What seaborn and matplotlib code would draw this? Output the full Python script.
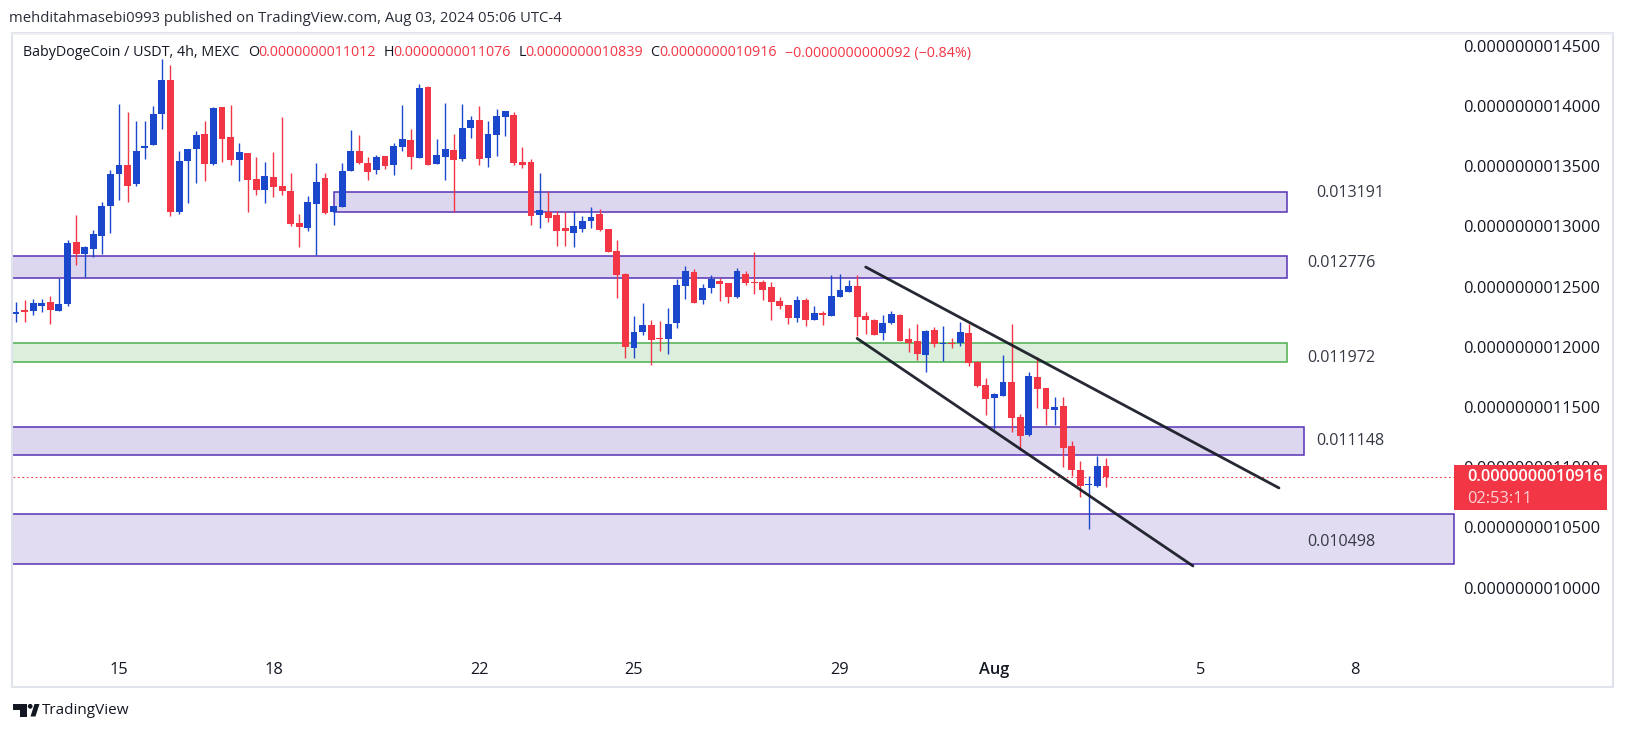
import numpy as np
import pandas as pd
import matplotlib
matplotlib.use("Agg")
import matplotlib.pyplot as plt
import matplotlib.transforms as mtransforms
from matplotlib.patches import Rectangle, Polygon, Circle
import seaborn as sns

W, H = 1627, 731

# 4h candles from 2024-07-13 00:00, prices in units of 1e-13 USDT
start_time = "2024-07-13 00:00"
opens = [12276, 12306, 12301, 12342, 12373, 12301, 12359, 12871, 12774, 12816,
         12924, 13173, 13439, 13511, 13356, 13655, 13680, 13937, 14217, 13123,
         13547, 13646, 13768, 13522, 13993, 13743, 13555, 13610, 13394, 13306,
         13411, 13336, 13295, 13029, 12990, 13190, 13403, 13123, 13165, 13464,
         13627, 13527, 13472, 13586, 13514, 13663, 13718, 13572, 14159, 13522,
         13580, 13635, 13563, 13821, 13885, 13572, 13763, 13912, 13926, 13536,
         13536, 13098, 13120, 13095, 12987, 12949, 12982, 13048, 13104, 12979,
         12796, 12605, 11993, 12126, 12182, 12074, 12068, 12201, 12509, 12622,
         12392, 12492, 12547, 12531, 12417, 12605, 12539, 12539, 12497, 12381,
         12348, 12243, 12390, 12226, 12282, 12259, 12417, 12459, 12506, 12256,
         12223, 12115, 12198, 12264, 12065, 12048, 11932, 12139, 12026, 12031,
         12031, 12115, 11874, 11683, 11577, 11594, 11708, 11417, 11267, 11749,
         11657, 11478, 11508, 11176, 10977, 10852, 10844, 11012]
highs = [12370, 12389, 12398, 12398, 12423, 12569, 12888, 13095, 12838, 12971,
         13203, 13469, 14018, 13951, 13876, 13876, 14001, 14390, 14341, 13627,
         13644, 13793, 13876, 13993, 13993, 14009, 13694, 13610, 13577, 13536,
         13619, 13909, 13444, 13104, 13253, 13527, 13444, 13170, 13527, 13802,
         13760, 13577, 13594, 13586, 13694, 14009, 13810, 14184, 14167, 13727,
         14026, 13768, 14018, 13918, 14001, 13876, 13976, 13959, 13951, 13660,
         13561, 13444, 13295, 13129, 13120, 13129, 13087, 13162, 13145, 12979,
         12888, 12613, 12257, 12365, 12223, 12215, 12323, 12564, 12672, 12647,
         12522, 12597, 12572, 12531, 12655, 12630, 12788, 12556, 12539, 12414,
         12348, 12423, 12406, 12340, 12298, 12597, 12605, 12556, 12597, 12289,
         12231, 12264, 12297, 12272, 12156, 12189, 12139, 12164, 12173, 12073,
         12206, 12189, 11882, 11741, 11616, 11932, 12189, 11442, 11790, 11915,
         11657, 11583, 11583, 11217, 11051, 10927, 11093, 11076]
lows = [12209, 12209, 12265, 12292, 12193, 12301, 12342, 12683, 12583, 12749,
        12774, 12949, 13223, 13206, 13339, 13563, 13680, 13813, 13090, 13106,
        13198, 13364, 13381, 13514, 13539, 13514, 13381, 13123, 13264, 13198,
        13248, 13264, 13007, 12832, 12965, 12763, 13106, 13015, 13165, 13464,
        13522, 13389, 13439, 13480, 13430, 13630, 13480, 13572, 13514, 13522,
        13389, 13123, 13547, 13738, 13514, 13497, 13588, 13754, 13514, 13489,
        13015, 12990, 13040, 12841, 12841, 12832, 12957, 12990, 12965, 12791,
        12409, 11910, 11910, 12101, 11850, 11969, 11944, 12160, 12398, 12367,
        12359, 12450, 12381, 12367, 12409, 12517, 12442, 12392, 12226, 12318,
        12193, 12210, 12176, 12223, 12185, 12259, 12417, 12456, 12093, 12106,
        12098, 12056, 12189, 12051, 11957, 11890, 11790, 12001, 11882, 11990,
        12007, 11843, 11666, 11433, 11317, 11594, 11292, 11143, 11259, 11492,
        11350, 11350, 11001, 10927, 10752, 10486, 10835, 10839]
closes = [12290, 12292, 12364, 12364, 12309, 12356, 12863, 12774, 12830, 12938,
          13170, 13436, 13511, 13339, 13627, 13669, 13934, 14217, 13123, 13544,
          13644, 13760, 13522, 13984, 13730, 13555, 13619, 13389, 13306, 13419,
          13331, 13298, 13023, 12998, 13203, 13370, 13115, 13170, 13461, 13627,
          13530, 13455, 13577, 13505, 13669, 13727, 13580, 14150, 13514, 13594,
          13644, 13555, 13818, 13885, 13563, 13768, 13918, 13959, 13530, 13514,
          13090, 13137, 13073, 12965, 12965, 13004, 13046, 13079, 12974, 12791,
          12600, 12002, 12124, 12182, 12057, 12065, 12190, 12514, 12630, 12367,
          12489, 12564, 12525, 12417, 12630, 12534, 12534, 12475, 12376, 12342,
          12243, 12390, 12226, 12282, 12262, 12423, 12473, 12506, 12251, 12223,
          12098, 12198, 12272, 12051, 12031, 11940, 12131, 12026, 12031, 12026,
          12123, 11868, 11674, 11566, 11608, 11708, 11408, 11259, 11757, 11652,
          11483, 11500, 11159, 10977, 10844, 10857, 11008, 10916]

# drawn zones (price bounds, start/end in candle units)
zone_top = [13289, 12757, 12030, 11337, 10609]
zone_bottom = [13118, 12569, 11872, 11102, 10194]
zone_start = [37.05, -5, -5, -5, -5]
zone_end = [148.08, 148.08, 148.08, 150.06, 167.5]
zone_kind = ["purple", "purple", "green", "purple", "light"]
zone_labels = ["0.013191", "0.012776", "0.011972", "0.011148", "0.010498"]

# falling channel lines
upper_x = [99.0, 147.15]
upper_y = [12663, 10828]
lower_x = [98.0, 137.13]
lower_y = [12070, 10180]

price_ticks = [10000, 10500, 11000, 11500, 12000, 12500, 13000, 13500, 14000, 14500]
tick_dates = ["2024-07-15", "2024-07-18", "2024-07-22", "2024-07-25",
              "2024-07-29", "2024-08-01", "2024-08-05", "2024-08-08"]
tick_labels = ["15", "18", "22", "25", "29", "Aug", "5", "8"]
countdown = "02:53:11"

BLUE = "#1a47cc"
RED = "#f23645"
DARK = "#131722"
ZONE_STYLE = {
    "purple": dict(facecolor="#dcd7ee", edgecolor="#5632b5"),
    "light": dict(facecolor="#e1dcf1", edgecolor="#5632b5"),
    "green": dict(facecolor="#dbefdc", edgecolor="#4caf50"),
}

sns.set_theme(style="white")
plt.rcParams["font.family"] = ["Open Sans", "DejaVu Sans"]

fig = plt.figure(figsize=(W / 100, H / 100), dpi=100)
fig.patch.set_facecolor("white")
ax = fig.add_axes([13 / W, 1 - 650 / H, 1600 / W, 617 / H])
ax.set_facecolor("white")
for s in ax.spines.values():
    s.set_visible(False)

# zones
for top, bot, x0, x1, kind in zip(zone_top, zone_bottom, zone_start, zone_end, zone_kind):
    ax.add_patch(Rectangle((x0, bot), x1 - x0, top - bot, linewidth=1.1,
                           zorder=1, **ZONE_STYLE[kind]))

label_x = [151.47, 150.4, 150.4, 151.47, 150.4]
label_y = [13278, 12697, 11907, 11218, 10379]
for lx, ly, txt in zip(label_x, label_y, zone_labels):
    ax.text(lx, ly, txt, fontsize=11.6, color="#363a45", ha="left", va="center", zorder=5)

# candles
o = np.array(opens, dtype=float)
c = np.array(closes, dtype=float)
hi = np.array(highs, dtype=float)
lo = np.array(lows, dtype=float)
x = np.arange(len(c))
colors = np.where(c >= o, BLUE, RED)
ax.vlines(x, lo, hi, colors=colors, linewidth=1.0, zorder=3)
body_h = np.maximum(np.abs(c - o), 12)
body_b = (o + c) / 2 - body_h / 2
ax.bar(x, body_h, bottom=body_b, width=0.8, color=colors, linewidth=0, zorder=3.1)

# channel
sns.lineplot(x=upper_x, y=upper_y, ax=ax, color=DARK, linewidth=2.0, alpha=0.92, zorder=4)
sns.lineplot(x=lower_x, y=lower_y, ax=ax, color=DARK, linewidth=2.0, alpha=0.92, zorder=4)

ax.set_xlim(-0.35, 186.07)
ax.set_ylim(9482, 14607)

# last price line + label
last = c[-1]
box_x0 = (1454 - 13) / 1600
box_x1 = (1607 - 13) / 1600
ax.axhline(last, xmin=0, xmax=box_x0, color=RED, linewidth=0.8,
           linestyle=(0, (1.5, 2.5)), zorder=2)
blend = mtransforms.blended_transform_factory(ax.transAxes, ax.transData)
ax.add_patch(Rectangle((box_x0, last - 271), box_x1 - box_x0, 374, transform=blend,
                       facecolor=RED, edgecolor="none", zorder=6, clip_on=False))
ax.text(box_x0 + 13 / 1600, last, f"{last * 1e-13:.13f}", transform=blend, color="white",
        fontsize=11.8, fontweight="semibold", ha="left", va="center", zorder=7, clip_on=False)
ax.text(box_x0 + 13 / 1600, last - 183, countdown, transform=blend, color="#fcd3d7",
        fontsize=11.8, ha="left", va="center", zorder=7, clip_on=False)

# axes ticks
ax.yaxis.tick_right()
ax.set_yticks(price_ticks)
ax.set_yticklabels([f"{v * 1e-13:.13f}" for v in price_ticks])
ax.tick_params(axis="y", length=0, pad=-9.4, labelsize=11.8, labelcolor=DARK)
for t in ax.get_yticklabels():
    t.set_horizontalalignment("right")

t0 = pd.Timestamp(start_time)
tick_pos = [(pd.Timestamp(d) - t0) / pd.Timedelta(hours=4) for d in tick_dates]
ax.set_xticks(tick_pos)
ax.set_xticklabels(tick_labels)
ax.tick_params(axis="x", length=0, pad=9, labelsize=11.8, labelcolor=DARK)
ax.get_xticklabels()[5].set_fontweight("semibold")
ax.grid(False)

# header texts
def fpx(px, py):
    return px / W, 1 - py / H

fig.text(*fpx(9, 19), "mehditahmasebi0993 published on TradingView.com, Aug 03, 2024 05:06 UTC-4",
         fontsize=10.7, color="#2a2e39", ha="left", va="center")

fmt = lambda v: f"{v * 1e-13:.13f}"
chg = c[-1] - c[-2]
pct = chg / c[-2] * 100
segments = [
    ("BabyDogeCoin / USDT, 4h, MEXC", 23, DARK),
    ("O", 248.3, DARK), (fmt(o[-1]), 258.3, RED),
    ("H", 383.3, DARK), (fmt(hi[-1]), 393.3, RED),
    ("L", 518.3, DARK), (fmt(lo[-1]), 525.7, RED),
    ("C", 650, DARK), (fmt(c[-1]), 659, RED),
    (f"\u2212{fmt(abs(chg))} (\u2212{abs(pct):.2f}%)", 785, RED),
]
for txt, px, col in segments:
    fig.text(*fpx(px, 53), txt, fontsize=10.3, color=col, ha="left", va="center")

# chart frame
ident = mtransforms.IdentityTransform()
fig.add_artist(Rectangle((12, H - 687), 1601, 654, transform=ident, fill=False,
                         edgecolor="#e0e3eb", linewidth=1.5, zorder=10))
fig.add_artist(Rectangle((12, H - 35), 1601, 2, transform=ident, facecolor="#eef0f5",
                         edgecolor="none", zorder=10))

# TradingView logo
fig.add_artist(Polygon([(13, H - 704), (27, H - 704), (27, H - 716.5), (20, H - 716.5),
                        (20, H - 709.5), (13, H - 709.5)], closed=True, transform=ident,
                       facecolor=DARK, edgecolor="none"))
fig.add_artist(Circle((30.2, H - 706.3), 2.4, transform=ident, facecolor=DARK, edgecolor="none"))
fig.add_artist(Polygon([(30.5, H - 716.5), (35.5, H - 716.5), (39.5, H - 704), (34.5, H - 704)],
                       closed=True, transform=ident, facecolor=DARK, edgecolor="none"))
fig.text(*fpx(42, 710), "TradingView", fontsize=11, color=DARK, ha="left", va="center")

fig.savefig("out.png", dpi=100, facecolor="white")
plt.close(fig)
